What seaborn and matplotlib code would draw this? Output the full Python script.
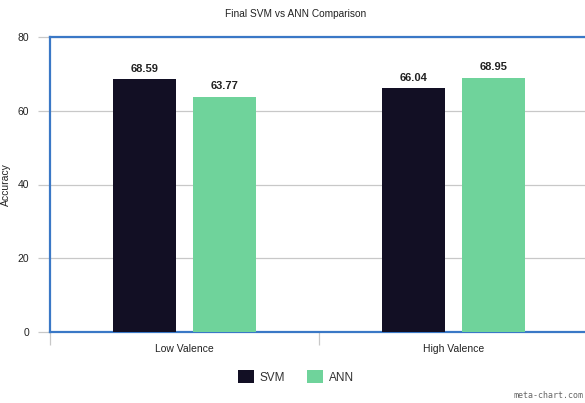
import matplotlib
matplotlib.use("Agg")
import matplotlib.pyplot as plt
import seaborn as sns
import pandas as pd
from matplotlib.patches import Patch

categories = ["Low Valence", "High Valence"]
svm_values = [68.59, 66.04]
ann_values = [63.77, 68.95]
series_names = ["SVM", "ANN"]
y_ticks = [0, 20, 40, 60, 80]

df = pd.DataFrame({
    "Valence": categories * 2,
    "Model": [series_names[0]] * 2 + [series_names[1]] * 2,
    "Accuracy": svm_values + ann_values,
})

sns.set_theme(style="white")
plt.rcParams["font.family"] = ["Liberation Sans", "DejaVu Sans"]

colors = {"SVM": "#120f24", "ANN": "#6fd39b"}
blue = "#3a78c6"

fig = plt.figure(figsize=(5.85, 4.03), dpi=100)
ax = fig.add_axes([50 / 585, 71 / 403, 538 / 585, 295 / 403])

sns.barplot(data=df, x="Valence", y="Accuracy", hue="Model", order=categories,
            hue_order=series_names, palette=colors, width=0.6, gap=0.22,
            saturation=1, linewidth=0, ax=ax, legend=False, zorder=3)

ax.set_xlim(-0.5, 1.5)
ax.set_ylim(0, 80)
ax.set_yticks(y_ticks)
ax.set_yticklabels([str(t) for t in y_ticks], fontsize=7.5, color="#222222")
ax.yaxis.grid(True, color="#c8c8c8", linewidth=0.9, zorder=0)
ax.set_axisbelow(True)

for side in ["top", "left", "bottom"]:
    ax.spines[side].set_color(blue)
    ax.spines[side].set_linewidth(1.6)
ax.spines["right"].set_visible(False)

ax.tick_params(axis="y", left=True, length=9, width=0.9, color="#c8c8c8", pad=6)
ax.set_xticks([0, 1])
ax.set_xticklabels(categories, fontsize=7.5, color="#222222")
ax.set_xticks([-0.5, 0.5, 1.5], minor=True)
ax.tick_params(axis="x", which="major", bottom=False, length=0, pad=9)
ax.tick_params(axis="x", which="minor", bottom=True, length=9, width=0.9, color="#c8c8c8")

ax.set_xlabel("")
ax.set_ylabel("Accuracy", fontsize=7.5, color="#222222")
ax.yaxis.set_label_coords((11 - 50) / 538, 0.5)

for container in ax.containers:
    ax.bar_label(container, fmt="%.2f", padding=4, fontsize=8,
                 fontweight="bold", color="#222222")

fig.text(296 / 585, 1 - 14 / 403, "Final SVM vs ANN Comparison",
         ha="center", va="center", fontsize=7.3, color="#222222")

handles = [Patch(facecolor=colors[n], edgecolor="none", label=n) for n in series_names]
fig.legend(handles=handles, loc="center", bbox_to_anchor=(296 / 585, 1 - 377 / 403),
           ncol=2, frameon=False, fontsize=8.5, handlelength=1.35, handleheight=1.35,
           columnspacing=1.9, handletextpad=0.45, labelcolor="#333333")

fig.text(584 / 585, 1 - 395 / 403, "meta-chart.com", ha="right", va="center",
         fontsize=6, color="#666666", family=["DejaVu Sans Mono", "DejaVu Sans"])

fig.savefig("out.png", dpi=100)
